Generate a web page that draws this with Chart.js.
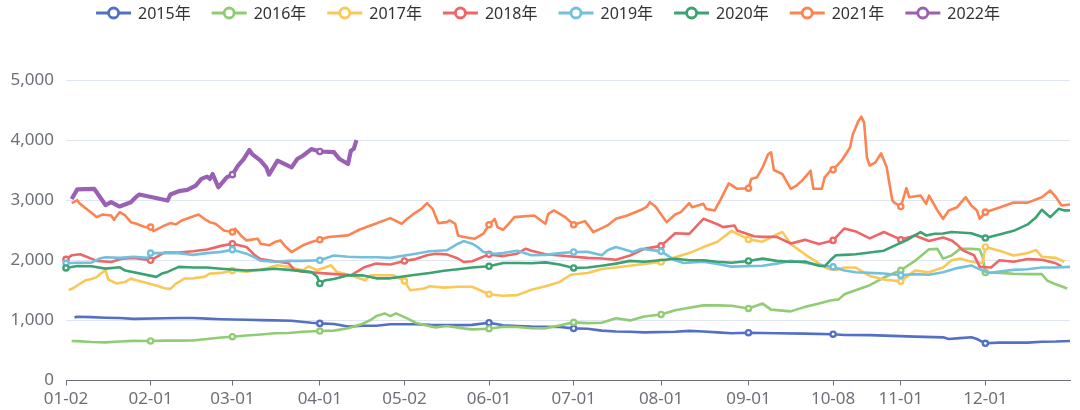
<!DOCTYPE html>
<html>
<head>
<meta charset="utf-8">
<script src="https://cdn.jsdelivr.net/npm/chart.js@4.4.0/dist/chart.umd.min.js"></script>
<style>
  html, body { margin: 0; padding: 0; background: #fff; }
  canvas { display: block; }
</style>
</head>
<body>
<canvas id="lineChart" width="1080" height="410"></canvas>
<script>
// x categories: every calendar day that traded in at least one year
const monthDays = [31, 29, 31, 30, 31, 30, 31, 31, 30, 31, 30, 31];
const closedDays = ['01-01', '05-01', '10-01', '10-02', '10-03', '10-04', '10-05', '10-06', '10-07'];
const tickLabels = ['01-02', '02-01', '03-01', '04-01', '05-02', '06-01', '07-01', '08-01', '09-01', '10-08', '11-01', '12-01'];

const categories = [];
monthDays.forEach((n, m) => {
    for (let d = 1; d <= n; d++) {
        const day = String(m + 1).padStart(2, '0') + '-' + String(d).padStart(2, '0');
        if (!closedDays.includes(day)) categories.push(day);
    }
});

const years = ['2015年', '2016年', '2017年', '2018年', '2019年', '2020年', '2021年', '2022年'];
const colors = ['#5470c6', '#91cc75', '#fac858', '#ee6666', '#73c0de', '#3ba272', '#fc8452', '#9a60b4'];

const s2015 = [['01-05',1050],['01-06',1060],['01-11',1055],['01-16',1045],['01-21',1040],['01-26',1025],['02-06',1035],['02-11',1040],['02-16',1040],['02-21',1030],['02-26',1020],['03-06',1010],['03-11',1005],['03-16',1000],['03-22',994],['03-29',961],['04-01',950],['04-06',940],['04-11',897],['04-16',910],['04-21',910],['04-26',935],['05-06',935],['05-11',925],['05-16',922],['05-21',922],['05-26',925],['06-01',961],['06-06',920],['06-11',908],['06-16',897],['06-21',895],['06-26',890],['07-01',867],['07-06',860],['07-11',830],['07-16',815],['07-21',810],['07-26',800],['08-06',810],['08-11',825],['08-16',815],['08-21',800],['08-26',785],['09-01',795],['09-11',785],['09-21',780],['10-08',770],['10-12',757],['10-21',755],['11-06',730],['11-16',718],['11-18',690],['11-22',705],['11-26',720],['11-28',690],['12-01',619],['12-06',630],['12-16',630],['12-21',645],['12-26',648],['12-31',657]];

const s2016 = [['01-04',657],['01-06',655],['01-11',640],['01-16',635],['01-21',650],['01-26',660],['02-01',657],['02-06',663],['02-11',663],['02-16',665],['02-21',690],['02-26',715],['03-01',729],['03-06',750],['03-11',765],['03-16',785],['03-21',790],['03-26',810],['04-01',823],['04-06',830],['04-11',870],['04-16',940],['04-19',1006],['04-21',1072],['04-24',1116],['04-26',1072],['04-28',1116],['05-03',1033],['05-06',961],['05-09',922],['05-13',884],['05-17',906],['05-23',867],['05-26',851],['06-01',862],['06-06',893],['06-11',890],['06-16',870],['06-21',868],['06-26',915],['07-01',967],['07-06',955],['07-11',960],['07-16',1035],['07-21',1000],['07-26',1065],['08-01',1099],['08-06',1170],['08-11',1210],['08-16',1250],['08-21',1250],['08-26',1245],['09-01',1199],['09-06',1280],['09-09',1180],['09-16',1150],['09-21',1225],['09-26',1280],['09-30',1330],['10-10',1350],['10-12',1436],['10-16',1503],['10-21',1586],['10-26',1713],['11-01',1834],['11-06',1990],['11-11',2182],['11-14',2190],['11-16',2028],['11-19',2080],['11-22',2190],['11-26',2190],['11-29',2180],['11-30',2055],['12-01',1796],['12-06',1790],['12-11',1775],['12-16',1770],['12-21',1770],['12-23',1660],['12-26',1600],['12-30',1530]];

const s2017 = [['01-03',1503],['01-05',1547],['01-07',1613],['01-09',1669],['01-11',1690],['01-13',1724],['01-14',1768],['01-16',1834],['01-17',1680],['01-20',1613],['01-23',1640],['01-25',1696],['01-26',1680],['02-03',1580],['02-06',1535],['02-08',1525],['02-10',1613],['02-13',1696],['02-16',1700],['02-20',1724],['02-22',1779],['02-26',1790],['03-01',1829],['03-06',1810],['03-13',1862],['03-17',1917],['03-21',1890],['03-26',1834],['03-28',1900],['03-31',1834],['04-05',1917],['04-07',1807],['04-12',1751],['04-17',1669],['04-19',1751],['04-27',1751],['05-02',1657],['05-04',1503],['05-09',1530],['05-11',1569],['05-16',1545],['05-21',1560],['05-26',1560],['06-01',1436],['06-06',1410],['06-11',1420],['06-16',1510],['06-21',1570],['06-26',1640],['06-30',1760],['07-06',1790],['07-11',1855],['07-16',1880],['07-21',1910],['07-26',1940],['08-01',1972],['08-06',2050],['08-11',2120],['08-16',2220],['08-21',2310],['08-26',2490],['09-01',2348],['09-06',2310],['09-11',2430],['09-13',2470],['09-16',2270],['09-21',2100],['09-26',1950],['09-29',1860],['10-09',1840],['10-12',1880],['10-16',1880],['10-21',1740],['10-26',1680],['11-01',1650],['11-06',1830],['11-11',1800],['11-16',1880],['11-19',2000],['11-22',2028],['11-26',1975],['11-30',1956],['12-01',2221],['12-06',2160],['12-11',2080],['12-16',2120],['12-19',2170],['12-21',2060],['12-26',2040],['12-29',1975]];

const s2018 = [['01-02',2017],['01-04',2083],['01-07',2100],['01-13',1990],['01-18',1972],['01-22',2028],['01-26',2040],['02-01',2000],['02-06',2130],['02-11',2130],['02-16',2150],['02-21',2180],['02-26',2240],['03-01',2276],['03-06',2221],['03-09',2083],['03-11',2020],['03-16',1985],['03-21',1950],['03-23',1834],['03-26',1810],['04-04',1779],['04-12',1751],['04-17',1890],['04-21',1945],['04-26',1930],['05-02',1989],['05-06',2020],['05-10',2083],['05-13',2110],['05-17',2099],['05-21',2030],['05-23',1972],['05-26',1985],['06-01',2099],['06-06',2070],['06-11',2110],['06-14',2193],['06-16',2160],['06-21',2100],['06-26',2080],['07-06',2040],['07-11',2030],['07-16',2010],['07-21',2080],['07-26',2190],['08-01',2240],['08-06',2450],['08-11',2440],['08-16',2690],['08-21',2600],['08-23',2552],['08-27',2580],['08-28',2497],['09-03',2400],['09-06',2390],['09-11',2390],['09-16',2280],['09-21',2340],['09-26',2270],['10-08',2331],['10-12',2530],['10-16',2480],['10-21',2365],['10-26',2470],['11-01',2343],['11-06',2414],['11-11',2320],['11-16',2380],['11-19',2331],['11-21',2260],['11-23',2166],['11-27',2083],['11-29',1890],['12-03',1880],['12-06',2000],['12-11',1975],['12-16',2020],['12-21',2010],['12-26',1950],['12-28',1900]];

const s2019 = [['01-02',1950],['01-06',1960],['01-11',1960],['01-14',2030],['01-16',2050],['01-21',2040],['01-26',2060],['01-31',2040],['02-01',2120],['02-06',2120],['02-11',2120],['02-16',2090],['02-21',2120],['02-26',2140],['03-01',2177],['03-06',2110],['03-09',2044],['03-11',1995],['03-16',1975],['03-21',1990],['03-26',1990],['04-01',2000],['04-06',2080],['04-11',2060],['04-16',2050],['04-21',2050],['04-26',2040],['05-06',2110],['05-11',2150],['05-17',2166],['05-21',2276],['05-23',2320],['05-26',2276],['05-28',2221],['05-30',2138],['06-03',2110],['06-06',2120],['06-11',2160],['06-16',2085],['06-21',2090],['06-26',2120],['07-01',2138],['07-06',2140],['07-11',2085],['07-13',2166],['07-16',2221],['07-22',2138],['07-25',2193],['08-01',2149],['08-06',2000],['08-09',1956],['08-16',1975],['08-21',1940],['08-26',1895],['09-06',1910],['09-11',1945],['09-16',1990],['09-21',1960],['09-26',1920],['10-08',1890],['10-12',1830],['10-16',1800],['10-21',1790],['10-26',1780],['11-01',1751],['11-06',1770],['11-11',1760],['11-16',1800],['11-21',1870],['11-26',1915],['11-29',1850],['12-02',1790],['12-06',1815],['12-11',1840],['12-16',1850],['12-21',1880],['12-26',1880],['12-31',1890]];

const s2020 = [['01-02',1873],['01-06',1905],['01-11',1900],['01-16',1862],['01-21',1885],['01-23',1830],['02-03',1724],['02-05',1780],['02-07',1807],['02-11',1890],['02-16',1880],['02-21',1880],['02-26',1860],['03-06',1830],['03-11',1840],['03-16',1860],['03-21',1840],['03-26',1820],['03-29',1806],['03-31',1730],['04-01',1615],['04-03',1669],['04-06',1690],['04-11',1750],['04-16',1750],['04-21',1700],['04-26',1700],['05-06',1760],['05-11',1790],['05-16',1825],['05-21',1850],['05-26',1880],['06-01',1900],['06-06',1955],['06-11',1955],['06-16',1950],['06-21',1965],['06-26',1930],['07-01',1873],['07-06',1880],['07-11',1910],['07-16',1945],['07-21',1990],['07-26',1975],['08-06',2025],['08-11',2000],['08-16',2000],['08-21',1975],['08-26',1958],['09-01',1989],['09-06',2028],['09-11',1990],['09-16',1975],['09-21',1980],['09-26',1910],['09-28',1900],['09-30',2000],['10-09',2083],['10-12',2090],['10-16',2100],['10-21',2130],['10-26',2160],['10-30',2249],['11-03',2331],['11-06',2414],['11-08',2470],['11-10',2414],['11-13',2442],['11-16',2445],['11-19',2470],['11-26',2450],['12-01',2370],['12-06',2430],['12-11',2490],['12-16',2597],['12-19',2718],['12-21',2840],['12-24',2718],['12-27',2856],['12-29',2830],['12-31',2829]];

const s2021 = [['01-04',2950],['01-06',3000],['01-07',2939],['01-10',2830],['01-13',2718],['01-15',2763],['01-18',2746],['01-19',2674],['01-21',2800],['01-23',2746],['01-25',2635],['01-27',2608],['01-30',2552],['02-01',2552],['02-02',2486],['02-06',2580],['02-08',2619],['02-10',2597],['02-12',2663],['02-18',2763],['02-20',2690],['02-22',2635],['02-24',2608],['02-27',2497],['03-01',2470],['03-02',2525],['03-04',2414],['03-06',2331],['03-10',2359],['03-11',2276],['03-14',2249],['03-16',2304],['03-18',2331],['03-20',2221],['03-22',2138],['03-24',2193],['03-26',2249],['03-29',2304],['04-01',2343],['04-04',2387],['04-11',2414],['04-15',2508],['04-18',2563],['04-20',2597],['04-26',2702],['04-30',2608],['05-03',2690],['05-05',2763],['05-08',2856],['05-10',2950],['05-12',2856],['05-14',2619],['05-17',2635],['05-18',2663],['05-20',2608],['05-21',2414],['05-23',2387],['05-27',2359],['05-30',2442],['06-01',2591],['06-03',2690],['06-04',2552],['06-06',2508],['06-08',2608],['06-10',2718],['06-17',2746],['06-21',2608],['06-22',2773],['06-24',2829],['06-28',2718],['07-01',2591],['07-05',2652],['07-08',2469],['07-13',2580],['07-16',2690],['07-20',2746],['07-25',2840],['07-27',2895],['07-28',2967],['07-30',2895],['08-03',2635],['08-06',2763],['08-08',2801],['08-11',2950],['08-12',2884],['08-16',2939],['08-17',2856],['08-20',2829],['08-22',3000],['08-25',3280],['08-28',3190],['09-01',3199],['09-02',3354],['09-04',3381],['09-06',3547],['09-08',3768],['09-09',3796],['09-10',3503],['09-13',3436],['09-16',3188],['09-18',3243],['09-20',3326],['09-23',3490],['09-24',3190],['09-27',3190],['09-28',3380],['09-30',3490],['10-08',3508],['10-11',3657],['10-14',3878],['10-15',4099],['10-17',4320],['10-18',4390],['10-19',4290],['10-20',3710],['10-21',3575],['10-23',3630],['10-25',3780],['10-27',3550],['10-28',3270],['10-29',2995],['10-30',2950],['11-01',2895],['11-03',3200],['11-04',3050],['11-08',3077],['11-10',2939],['11-11',3077],['11-14',2830],['11-16',2690],['11-18',2829],['11-21',2884],['11-24',3050],['11-26',2912],['11-28',2829],['11-29',2690],['12-01',2801],['12-06',2880],['12-11',2960],['12-16',2960],['12-21',3050],['12-24',3160],['12-26',3050],['12-28',2912],['12-31',2928]];

const s2022 = [['01-04',3020],['01-06',3180],['01-12',3190],['01-16',2920],['01-18',2967],['01-21',2895],['01-25',2967],['01-27',3060],['01-28',3094],['02-07',2994],['02-08',3094],['02-11',3150],['02-14',3171],['02-17',3243],['02-19',3354],['02-21',3392],['02-22',3354],['02-23',3436],['02-25',3215],['02-28',3381],['03-01',3425],['03-03',3575],['03-05',3685],['03-07',3834],['03-08',3768],['03-11',3657],['03-13',3547],['03-14',3425],['03-17',3657],['03-22',3547],['03-24',3685],['03-26',3740],['03-29',3851],['03-31',3823],['04-01',3810],['04-06',3800],['04-07',3740],['04-08',3685],['04-11',3602],['04-12',3823],['04-13',3851],['04-14',4000]];

const seriesValues = [s2015, s2016, s2017, s2018, s2019, s2020, s2021, s2022];

const fontFamily = '"Noto Sans", "Noto Sans CJK SC", sans-serif';

// legend drawn by hand: line + hollow circle icon, like the original
const yearLegend = {
    id: 'yearLegend',
    afterDraw(chart) {
        const c = chart.ctx;
        c.save();
        c.font = '16px ' + fontFamily;
        const widths = chart.data.datasets.map(ds => c.measureText(ds.label).width);
        const total = widths.reduce((s, w) => s + 35 + 7 + w, 0) + 21 * (widths.length - 1);
        let x = 548 - total / 2;
        const y = 13;
        chart.data.datasets.forEach((ds, i) => {
            c.strokeStyle = ds.borderColor;
            c.lineWidth = 2.8;
            c.beginPath();
            c.moveTo(x, y);
            c.lineTo(x + 35, y);
            c.stroke();
            c.beginPath();
            c.arc(x + 17.5, y, 5, 0, Math.PI * 2);
            c.fillStyle = '#fff';
            c.fill();
            c.stroke();
            c.fillStyle = '#333';
            c.textBaseline = 'middle';
            c.textAlign = 'left';
            c.fillText(ds.label, x + 42, y + 1);
            x += 35 + 7 + widths[i] + 21;
        });
        c.restore();
    }
};

const ctx = document.getElementById('lineChart').getContext('2d');
new Chart(ctx, {
    type: 'line',
    data: {
        labels: categories,
        datasets: years.map((year, i) => ({
            label: year,
            data: seriesValues[i].map(([x, y]) => ({ x, y })),
            borderColor: colors[i],
            backgroundColor: colors[i],
            borderWidth: i === 7 ? 4.2 : 2.6,
            borderJoinStyle: 'round',
            tension: 0,
            pointRadius: c => (c.raw && tickLabels.includes(c.raw.x)) ? 2.6 : 0,
            pointBorderWidth: 2.4,
            pointBackgroundColor: '#fff',
            pointBorderColor: colors[i],
            order: years.length - i
        }))
    },
    options: {
        responsive: false,
        animation: false,
        events: [],
        layout: { padding: { top: 80, right: 10, bottom: 0, left: 0 } },
        plugins: {
            legend: { display: false },
            tooltip: { enabled: false }
        },
        scales: {
            x: {
                type: 'category',
                offset: false,
                grid: {
                    drawOnChartArea: false,
                    drawTicks: true,
                    tickLength: 5,
                    color: c => tickLabels.includes(categories[c.index]) ? '#6E7079' : 'rgba(0,0,0,0)'
                },
                border: { display: true, color: '#6E7079', width: 1 },
                ticks: {
                    autoSkip: false,
                    maxRotation: 0,
                    minRotation: 0,
                    padding: 3,
                    color: '#6E7079',
                    font: { family: fontFamily, size: 17 },
                    callback: v => tickLabels.includes(categories[v]) ? categories[v] : ''
                },
                afterFit: s => { s.height = 29.5; }
            },
            y: {
                min: 0,
                max: 5000,
                ticks: {
                    stepSize: 1000,
                    padding: 12,
                    color: '#6E7079',
                    font: { family: fontFamily, size: 17 },
                    callback: v => v.toLocaleString('en-US')
                },
                grid: { color: '#E0E6F1', drawTicks: false },
                border: { display: false },
                afterFit: s => { s.width = 66; }
            }
        }
    },
    plugins: [yearLegend]
});
</script>
</body>
</html>
